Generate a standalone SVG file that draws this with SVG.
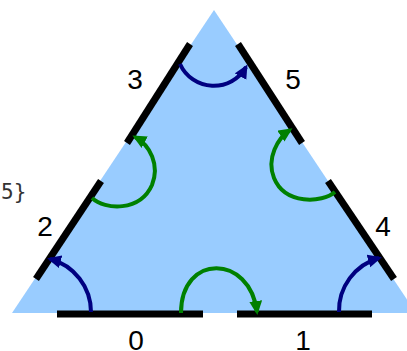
<svg xmlns="http://www.w3.org/2000/svg" width="407" height="351" viewBox="0 0 407 351">
<style>
.seg{stroke:#000;stroke-width:7;stroke-linecap:butt;fill:none}
.blue{stroke:#000080;stroke-width:4;fill:none;marker-end:url(#ab)}
.green{stroke:#008000;stroke-width:4;fill:none;marker-end:url(#ag)}
.lbl{font-family:"Liberation Sans",Arial,sans-serif;font-size:28px;fill:#000;text-anchor:middle}
.note{font-family:"DejaVu Sans Mono",monospace;font-size:21px;fill:#333}
</style>
<defs>
<marker id="ab" markerUnits="userSpaceOnUse" markerWidth="16" markerHeight="14" refX="11" refY="6.5" orient="auto" viewBox="0 0 16 14">
<path d="M0,0 L14,6.5 L0,13 Z" fill="#000080"/>
</marker>
<marker id="ag" markerUnits="userSpaceOnUse" markerWidth="16" markerHeight="14" refX="11" refY="6.5" orient="auto" viewBox="0 0 16 14">
<path d="M0,0 L14,6.5 L0,13 Z" fill="#008000"/>
</marker>
</defs>
<polygon id="triangle" points="12,313 214,10 416,313" fill="#99ccff"/>
<g id="seg0"><line class="seg" x1="57" y1="314" x2="203" y2="314"/><text class="lbl" x="136" y="350">0</text></g>
<g id="seg1"><line class="seg" x1="237" y1="314" x2="372" y2="314"/><text class="lbl" x="303" y="350">1</text></g>
<g id="seg2"><line class="seg" x1="36" y1="279" x2="101" y2="181"/><text class="lbl" x="45" y="236">2</text></g>
<g id="seg3"><line class="seg" x1="127" y1="143" x2="190" y2="44"/><text class="lbl" x="135" y="89">3</text></g>
<g id="seg4"><line class="seg" x1="328" y1="181" x2="394" y2="279"/><text class="lbl" x="383" y="236">4</text></g>
<g id="seg5"><line class="seg" x1="238" y1="44" x2="302" y2="143"/><text class="lbl" x="293" y="89">5</text></g>
<g id="connectors">
<path class="blue" d="M91,312 A55,55 0 0 0 50,259"/>
<path class="blue" d="M339,312 A55,55 0 0 1 379,258"/>
<path class="blue" d="M180,64 A37,37 0 0 0 246,67"/>
<path class="green" d="M181,313 C181,253 250,254 257,312"/>
<path class="green" d="M92,198 C105,210 140,212 152,185 C160,165 150,145 135,137"/>
<path class="green" d="M335,192 C322,203 285,205 274,178 C266,158 278,138 290,130"/>
</g>
<text class="note" x="1" y="199">5}</text>
</svg>
